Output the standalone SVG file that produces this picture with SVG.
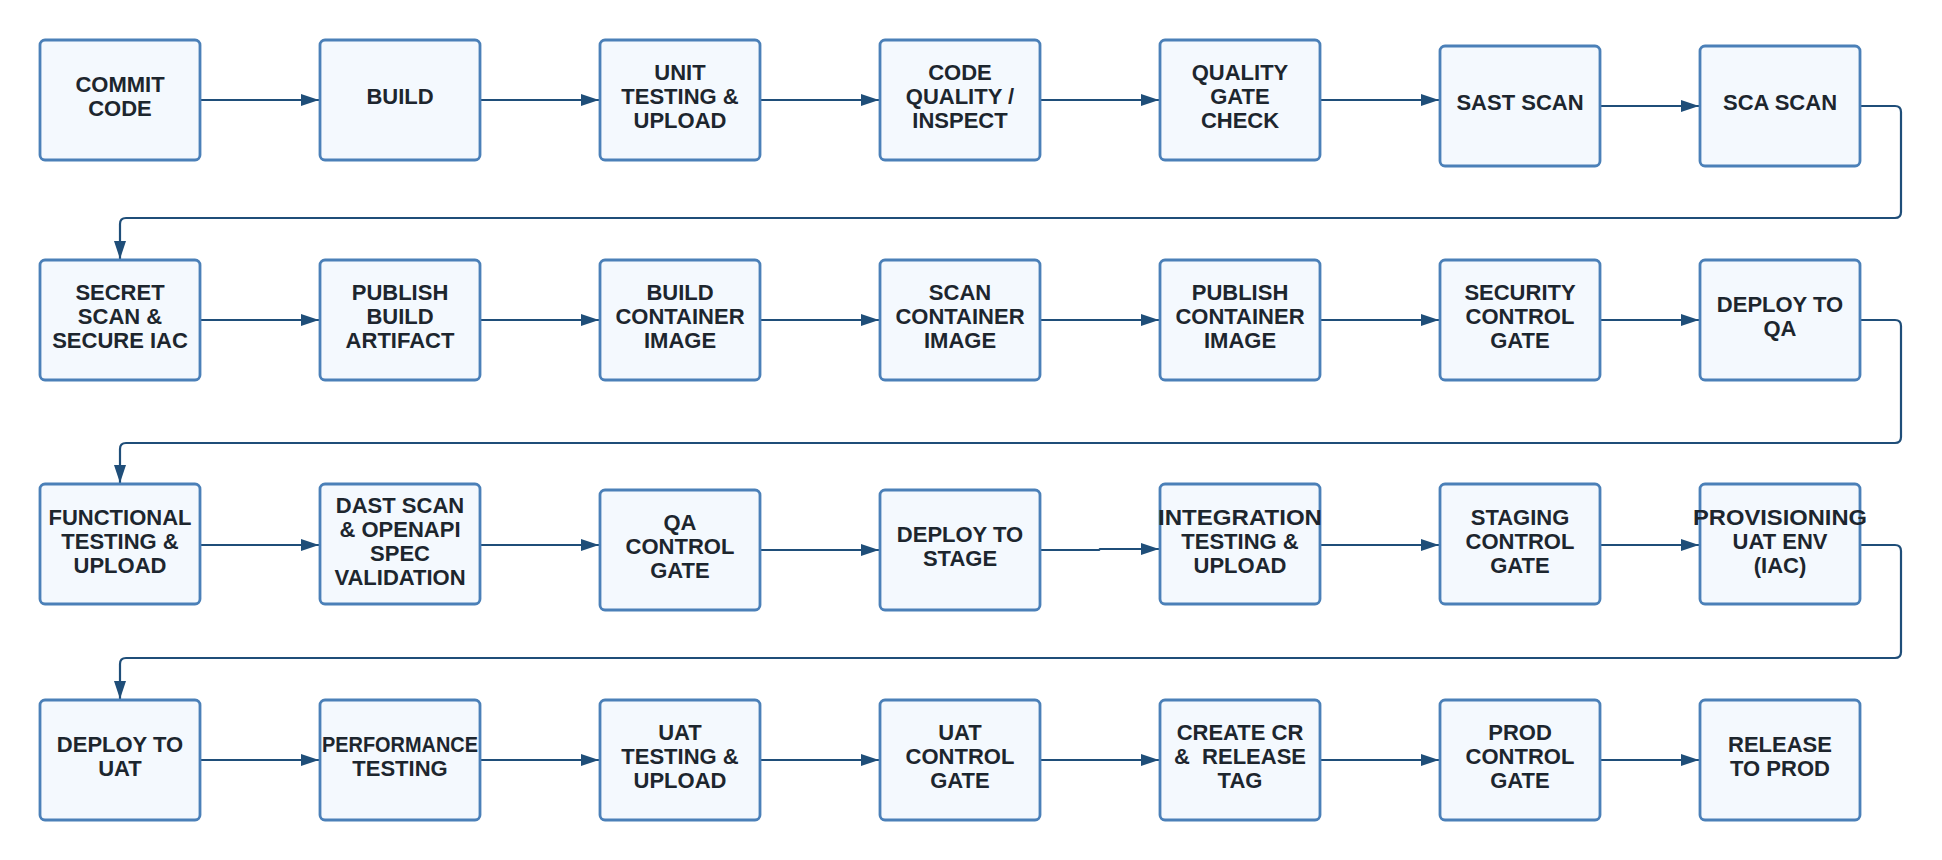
<svg xmlns="http://www.w3.org/2000/svg" width="1942" height="860" viewBox="0 0 1942 860">
<defs>
<style>
.box{fill:#f4f9fe;stroke:#4b80b8;stroke-width:2.8}
.t{font-family:"Liberation Sans",Arial,sans-serif;font-weight:700;font-size:22px;fill:#1d262e;text-anchor:middle}
.c{fill:none;stroke:#1f4e79;stroke-width:2.2}
</style>
<marker id="ah" markerUnits="userSpaceOnUse" markerWidth="18" markerHeight="12" refX="18" refY="6" orient="auto">
<path d="M0,0 L18,6 L0,12 z" fill="#1f4e79"/>
</marker>
</defs>
<rect width="1942" height="860" fill="#ffffff"/>

<g id="connectors">
<path class="c" marker-end="url(#ah)" d="M200,100 H319"/>
<path class="c" marker-end="url(#ah)" d="M480,100 H599"/>
<path class="c" marker-end="url(#ah)" d="M760,100 H879"/>
<path class="c" marker-end="url(#ah)" d="M1040,100 H1159"/>
<path class="c" marker-end="url(#ah)" d="M1320,100 H1439"/>
<path class="c" marker-end="url(#ah)" d="M1600,106 H1699"/>
<path class="c" marker-end="url(#ah)" d="M1860,106 H1895 Q1901,106 1901,112 V212 Q1901,218 1895,218 H126 Q120,218 120,224 V259"/>

<path class="c" marker-end="url(#ah)" d="M200,320 H319"/>
<path class="c" marker-end="url(#ah)" d="M480,320 H599"/>
<path class="c" marker-end="url(#ah)" d="M760,320 H879"/>
<path class="c" marker-end="url(#ah)" d="M1040,320 H1159"/>
<path class="c" marker-end="url(#ah)" d="M1320,320 H1439"/>
<path class="c" marker-end="url(#ah)" d="M1600,320 H1699"/>
<path class="c" marker-end="url(#ah)" d="M1860,320 H1895 Q1901,320 1901,326 V437 Q1901,443 1895,443 H126 Q120,443 120,449 V483"/>

<path class="c" marker-end="url(#ah)" d="M200,545 H319"/>
<path class="c" marker-end="url(#ah)" d="M480,545 H599"/>
<path class="c" marker-end="url(#ah)" d="M760,550 H879"/>
<path class="c" marker-end="url(#ah)" d="M1040,550 H1099 L1100,549 H1159"/>
<path class="c" marker-end="url(#ah)" d="M1320,545 H1439"/>
<path class="c" marker-end="url(#ah)" d="M1600,545 H1699"/>
<path class="c" marker-end="url(#ah)" d="M1860,545 H1895 Q1901,545 1901,551 V652 Q1901,658 1895,658 H126 Q120,658 120,664 V699"/>

<path class="c" marker-end="url(#ah)" d="M200,760 H319"/>
<path class="c" marker-end="url(#ah)" d="M480,760 H599"/>
<path class="c" marker-end="url(#ah)" d="M760,760 H879"/>
<path class="c" marker-end="url(#ah)" d="M1040,760 H1159"/>
<path class="c" marker-end="url(#ah)" d="M1320,760 H1439"/>
<path class="c" marker-end="url(#ah)" d="M1600,760 H1699"/>
</g>

<g id="commit-code"><rect class="box" x="40" y="40" width="160" height="120" rx="5"/><text class="t" x="120" y="92">COMMIT</text><text class="t" x="120" y="116">CODE</text></g>
<g id="build"><rect class="box" x="320" y="40" width="160" height="120" rx="5"/><text class="t" x="400" y="104">BUILD</text></g>
<g id="unit-testing"><rect class="box" x="600" y="40" width="160" height="120" rx="5"/><text class="t" x="680" y="80">UNIT</text><text class="t" x="680" y="104">TESTING &amp;</text><text class="t" x="680" y="128">UPLOAD</text></g>
<g id="code-quality"><rect class="box" x="880" y="40" width="160" height="120" rx="5"/><text class="t" x="960" y="80">CODE</text><text class="t" x="960" y="104">QUALITY /</text><text class="t" x="960" y="128">INSPECT</text></g>
<g id="quality-gate"><rect class="box" x="1160" y="40" width="160" height="120" rx="5"/><text class="t" x="1240" y="80">QUALITY</text><text class="t" x="1240" y="104">GATE</text><text class="t" x="1240" y="128">CHECK</text></g>
<g id="sast-scan"><rect class="box" x="1440" y="46" width="160" height="120" rx="5"/><text class="t" x="1520" y="110">SAST SCAN</text></g>
<g id="sca-scan"><rect class="box" x="1700" y="46" width="160" height="120" rx="5"/><text class="t" x="1780" y="110">SCA SCAN</text></g>

<g id="secret-scan"><rect class="box" x="40" y="260" width="160" height="120" rx="5"/><text class="t" x="120" y="300">SECRET</text><text class="t" x="120" y="324">SCAN &amp;</text><text class="t" x="120" y="348">SECURE IAC</text></g>
<g id="publish-build"><rect class="box" x="320" y="260" width="160" height="120" rx="5"/><text class="t" x="400" y="300">PUBLISH</text><text class="t" x="400" y="324">BUILD</text><text class="t" x="400" y="348">ARTIFACT</text></g>
<g id="build-container"><rect class="box" x="600" y="260" width="160" height="120" rx="5"/><text class="t" x="680" y="300">BUILD</text><text class="t" x="680" y="324">CONTAINER</text><text class="t" x="680" y="348">IMAGE</text></g>
<g id="scan-container"><rect class="box" x="880" y="260" width="160" height="120" rx="5"/><text class="t" x="960" y="300">SCAN</text><text class="t" x="960" y="324">CONTAINER</text><text class="t" x="960" y="348">IMAGE</text></g>
<g id="publish-container"><rect class="box" x="1160" y="260" width="160" height="120" rx="5"/><text class="t" x="1240" y="300">PUBLISH</text><text class="t" x="1240" y="324">CONTAINER</text><text class="t" x="1240" y="348">IMAGE</text></g>
<g id="security-gate"><rect class="box" x="1440" y="260" width="160" height="120" rx="5"/><text class="t" x="1520" y="300">SECURITY</text><text class="t" x="1520" y="324">CONTROL</text><text class="t" x="1520" y="348">GATE</text></g>
<g id="deploy-qa"><rect class="box" x="1700" y="260" width="160" height="120" rx="5"/><text class="t" x="1780" y="312">DEPLOY TO</text><text class="t" x="1780" y="336">QA</text></g>

<g id="functional-testing"><rect class="box" x="40" y="484" width="160" height="120" rx="5"/><text class="t" x="120" y="525">FUNCTIONAL</text><text class="t" x="120" y="549">TESTING &amp;</text><text class="t" x="120" y="573">UPLOAD</text></g>
<g id="dast-scan"><rect class="box" x="320" y="484" width="160" height="120" rx="5"/><text class="t" x="400" y="513">DAST SCAN</text><text class="t" x="400" y="537">&amp; OPENAPI</text><text class="t" x="400" y="561">SPEC</text><text class="t" x="400" y="585">VALIDATION</text></g>
<g id="qa-gate"><rect class="box" x="600" y="490" width="160" height="120" rx="5"/><text class="t" x="680" y="530">QA</text><text class="t" x="680" y="554">CONTROL</text><text class="t" x="680" y="578">GATE</text></g>
<g id="deploy-stage"><rect class="box" x="880" y="490" width="160" height="120" rx="5"/><text class="t" x="960" y="542">DEPLOY TO</text><text class="t" x="960" y="566">STAGE</text></g>
<g id="integration-testing"><rect class="box" x="1160" y="484" width="160" height="120" rx="5"/><text class="t" x="1240" y="525" textLength="164" lengthAdjust="spacingAndGlyphs">INTEGRATION</text><text class="t" x="1240" y="549">TESTING &amp;</text><text class="t" x="1240" y="573">UPLOAD</text></g>
<g id="staging-gate"><rect class="box" x="1440" y="484" width="160" height="120" rx="5"/><text class="t" x="1520" y="525">STAGING</text><text class="t" x="1520" y="549">CONTROL</text><text class="t" x="1520" y="573">GATE</text></g>
<g id="provisioning-uat"><rect class="box" x="1700" y="484" width="160" height="120" rx="5"/><text class="t" x="1780" y="525" textLength="174" lengthAdjust="spacingAndGlyphs">PROVISIONING</text><text class="t" x="1780" y="549">UAT ENV</text><text class="t" x="1780" y="573">(IAC)</text></g>

<g id="deploy-uat"><rect class="box" x="40" y="700" width="160" height="120" rx="5"/><text class="t" x="120" y="752">DEPLOY TO</text><text class="t" x="120" y="776">UAT</text></g>
<g id="performance-testing"><rect class="box" x="320" y="700" width="160" height="120" rx="5"/><text class="t" x="400" y="752" textLength="156" lengthAdjust="spacingAndGlyphs">PERFORMANCE</text><text class="t" x="400" y="776">TESTING</text></g>
<g id="uat-testing"><rect class="box" x="600" y="700" width="160" height="120" rx="5"/><text class="t" x="680" y="740">UAT</text><text class="t" x="680" y="764">TESTING &amp;</text><text class="t" x="680" y="788">UPLOAD</text></g>
<g id="uat-gate"><rect class="box" x="880" y="700" width="160" height="120" rx="5"/><text class="t" x="960" y="740">UAT</text><text class="t" x="960" y="764">CONTROL</text><text class="t" x="960" y="788">GATE</text></g>
<g id="create-cr"><rect class="box" x="1160" y="700" width="160" height="120" rx="5"/><text class="t" x="1240" y="740">CREATE CR</text><text class="t" x="1240" y="764" xml:space="preserve">&amp;  RELEASE</text><text class="t" x="1240" y="788">TAG</text></g>
<g id="prod-gate"><rect class="box" x="1440" y="700" width="160" height="120" rx="5"/><text class="t" x="1520" y="740">PROD</text><text class="t" x="1520" y="764">CONTROL</text><text class="t" x="1520" y="788">GATE</text></g>
<g id="release-prod"><rect class="box" x="1700" y="700" width="160" height="120" rx="5"/><text class="t" x="1780" y="752">RELEASE</text><text class="t" x="1780" y="776">TO PROD</text></g>
</svg>
